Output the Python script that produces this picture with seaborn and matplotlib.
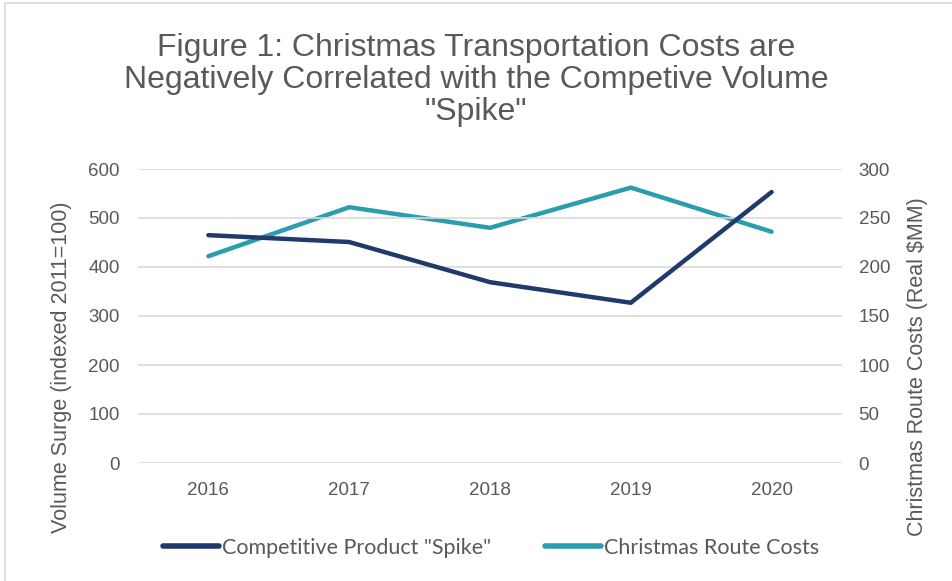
import matplotlib
matplotlib.use("Agg")
import matplotlib.pyplot as plt
import seaborn as sns
import pandas as pd
from matplotlib.patches import Rectangle
from matplotlib.lines import Line2D

years = ["2016", "2017", "2018", "2019", "2020"]
spike = [465, 451, 369, 327, 553]
route_costs = [211, 261, 240, 281, 236]
left_ticks = [0, 100, 200, 300, 400, 500, 600]
right_ticks = [0, 50, 100, 150, 200, 250, 300]

NAVY = "#1F3A6B"
TEAL = "#2A9DAE"
GRAY = "#595959"

sns.set_theme(style="white")
plt.rcParams["font.family"] = ["Liberation Sans", "DejaVu Sans"]

df = pd.DataFrame({"year": years, "spike": spike, "cost": route_costs})

fig = plt.figure(figsize=(9.53, 5.81), dpi=100)
ax = fig.add_axes([138/953, 1-463/581, (842-138)/953, (463-169)/581])
ax2 = ax.twinx()

sns.lineplot(data=df, x="year", y="spike", ax=ax, color=NAVY, lw=3.2, sort=False,
             solid_capstyle="round")
sns.lineplot(data=df, x="year", y="cost", ax=ax2, color=TEAL, lw=3.2, sort=False,
             solid_capstyle="round")

ax.set_xlim(-0.5, 4.5)
ax.set_ylim(0, 600)
ax2.set_ylim(0, 300)
ax.set_yticks(left_ticks)
ax2.set_yticks(right_ticks)
ax.yaxis.grid(True, color="#D9D9D9", lw=1.2)
ax.set_axisbelow(True)
ax.set_zorder(ax2.get_zorder() + 1)
ax.patch.set_visible(False)
for a in (ax, ax2):
    for s in a.spines.values():
        s.set_visible(False)
    a.tick_params(axis="both", length=0, labelsize=13.5, labelcolor=GRAY)
    a.set_xlabel("")
    a.set_ylabel("")
ax.tick_params(axis="y", pad=13)
ax2.tick_params(axis="y", pad=12)
ax.tick_params(axis="x", pad=14)

fig.text(476/953, 1-80/581,
         'Figure 1: Christmas Transportation Costs are\nNegatively Correlated with the Competive Volume\n"Spike"',
         ha="center", va="center", fontsize=23, color=GRAY, linespacing=1.07)

fig.text(62/953, 1-367/581, "Volume Surge (indexed 2011=100)", rotation=90,
         ha="center", va="center", fontsize=15.5, color=GRAY)
fig.text(918/953, 1-367/581, "Christmas Route Costs (Real $MM)", rotation=90,
         ha="center", va="center", fontsize=15.5, color=GRAY)

handles = [Line2D([], [], color=NAVY, lw=4, solid_capstyle="round"),
           Line2D([], [], color=TEAL, lw=4, solid_capstyle="round")]
fig.legend(handles, ['Competitive Product "Spike"', "Christmas Route Costs"],
           loc="center", bbox_to_anchor=(491/953, 1-548/581), ncol=2, frameon=False,
           handlelength=2.6, handletextpad=0.15, columnspacing=2.5,
           prop={"family": ["Lato", "DejaVu Sans"], "size": 15.5}, labelcolor=GRAY)

fig.patches.append(Rectangle((5/953, -0.02), 1.0, 1-3/581 + 0.02, transform=fig.transFigure,
                             fill=False, edgecolor="#D9D9D9", lw=1.2))

fig.savefig("out.png", dpi=100)
